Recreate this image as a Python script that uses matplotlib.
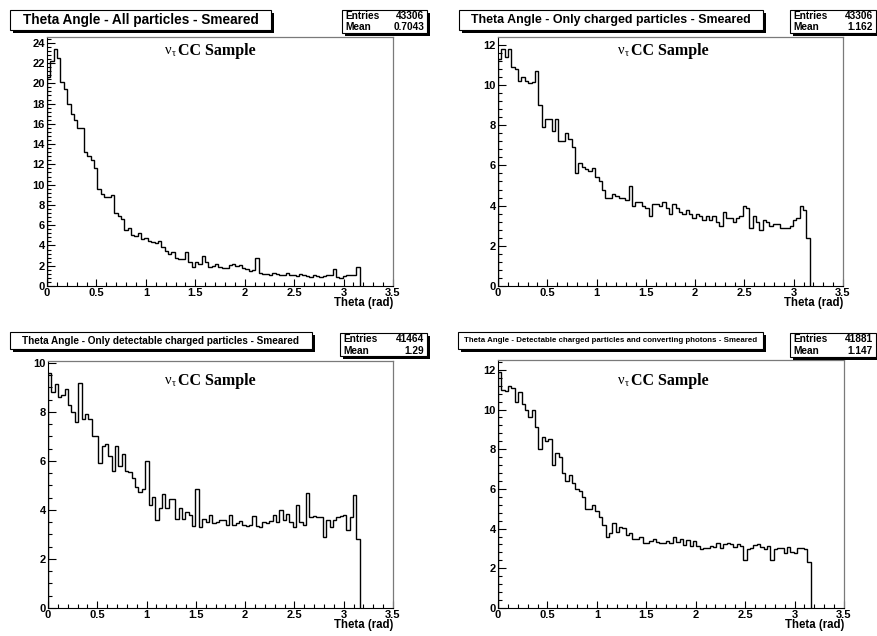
import numpy as np
import matplotlib
matplotlib.use("Agg")
import matplotlib.pyplot as plt
from matplotlib.patches import Rectangle
from matplotlib.ticker import MultipleLocator

W, H = 877, 636
BIN_WIDTH = 0.034  # rad per bin, 100 bins over [0, 3.4]

# Smeared theta distributions (bin contents, first 93 bins up to pi)
all_particles = [
    20.6, 22.2, 23.4, 22.5, 20.1, 19.4, 18.0, 17.0, 16.4, 15.6,
    15.6, 13.2, 12.8, 12.4, 11.6, 9.6, 9.1, 8.8, 8.8, 9.0,
    7.2, 6.9, 6.6, 5.5, 5.7, 5.0, 4.9, 5.2, 4.6, 4.7,
    4.4, 4.3, 4.2, 4.4, 3.8, 3.5, 3.2, 3.4, 2.8, 2.7,
    2.7, 3.4, 2.4, 1.9, 2.4, 2.2, 3.0, 2.4, 1.9, 2.0,
    2.2, 1.9, 1.8, 1.8, 2.1, 2.2, 2.0, 2.1, 1.8, 1.7,
    1.5, 1.6, 2.8, 1.3, 1.2, 1.2, 1.1, 1.3, 1.2, 1.1,
    1.1, 1.3, 1.1, 1.1, 1.0, 1.2, 1.1, 1.0, 0.9, 1.1,
    1.0, 0.9, 1.0, 1.1, 1.1, 1.7, 0.9, 0.8, 1.0, 1.1,
    1.1, 1.1, 1.9]

charged = [
    11.3, 11.8, 11.4, 11.8, 10.9, 10.8, 10.2, 10.4, 10.2, 10.1,
    10.15, 10.7, 9.0, 7.9, 8.3, 8.3, 7.7, 8.3, 7.2, 7.2,
    7.6, 7.3, 6.9, 5.6, 6.1, 5.9, 5.8, 5.7, 5.85, 5.4,
    5.2, 4.8, 4.4, 4.4, 4.6, 4.5, 4.4, 4.4, 4.3, 5.0,
    4.0, 4.2, 4.2, 4.0, 3.9, 3.5, 4.1, 4.1, 4.0, 4.2,
    3.9, 3.6, 4.1, 3.9, 3.7, 3.6, 3.8, 3.6, 3.4, 3.6,
    3.5, 3.3, 3.5, 3.3, 3.5, 3.2, 3.0, 3.7, 3.4, 3.4,
    3.2, 3.4, 3.5, 4.0, 3.9, 2.9, 3.5, 3.2, 2.8, 3.3,
    3.2, 3.0, 3.1, 3.1, 2.9, 2.9, 2.9, 3.0, 3.3, 3.4,
    4.0, 3.8, 2.4]

detectable_charged = [
    9.6, 8.8, 9.15, 8.6, 8.7, 8.95, 8.3, 8.0, 7.6, 9.2,
    7.7, 7.9, 7.7, 7.0, 7.0, 5.9, 6.6, 6.7, 6.2, 5.6,
    6.6, 5.8, 6.3, 5.6, 5.55, 5.3, 4.95, 4.75, 4.85, 6.0,
    4.2, 4.55, 3.6, 4.1, 4.65, 4.1, 4.45, 4.45, 3.65, 4.1,
    3.65, 3.9, 3.8, 3.35, 4.85, 3.3, 3.65, 3.5, 3.8, 3.45,
    3.5, 3.6, 3.6, 3.4, 3.8, 3.4, 3.45, 3.55, 3.4, 3.35,
    3.4, 3.75, 3.35, 3.3, 3.5, 3.45, 3.55, 3.8, 3.5, 4.0,
    3.6, 3.85, 3.5, 3.3, 4.2, 3.5, 3.4, 4.7, 3.7, 3.75,
    3.7, 3.7, 2.9, 3.6, 3.3, 3.6, 3.7, 3.75, 3.8, 3.2,
    3.7, 4.6, 2.8]

charged_and_photons = [
    11.9, 11.0, 10.95, 11.2, 11.1, 10.4, 10.9, 10.3, 10.0, 9.6,
    10.0, 9.1, 8.0, 8.6, 8.4, 8.5, 7.2, 7.8, 7.6, 6.8,
    6.4, 6.7, 6.3, 6.0, 5.9, 5.6, 5.0, 5.0, 5.2, 4.9,
    4.6, 4.2, 3.6, 3.8, 4.3, 3.85, 4.1, 4.05, 3.7, 3.8,
    3.5, 3.5, 3.6, 3.3, 3.3, 3.4, 3.5, 3.35, 3.3, 3.3,
    3.4, 3.3, 3.6, 3.35, 3.5, 3.15, 3.45, 3.1, 3.4, 3.1,
    2.95, 3.0, 3.0, 3.1, 3.05, 3.25, 3.0, 3.2, 3.25, 3.2,
    3.05, 3.2, 3.1, 2.4, 2.95, 3.0, 3.15, 3.2, 3.05, 2.95,
    3.1, 2.4, 2.95, 3.0, 3.0, 2.75, 3.05, 2.8, 2.75, 3.0,
    3.0, 2.95, 2.3]

titles = [
    "Theta Angle - All particles - Smeared",
    "Theta Angle - Only charged particles - Smeared",
    "Theta Angle - Only detectable charged particles - Smeared",
    "Theta Angle - Detectable charged particles and converting photons - Smeared",
]
entries = ["43306", "43306", "41464", "41881"]
means = ["0.7043", "1.162", "1.29", "1.147"]
x_ticks = [0, 0.5, 1, 1.5, 2, 2.5, 3, 3.5]
x_tick_labels = ["0", "0.5", "1", "1.5", "2", "2.5", "3", "3.5"]
x_title = "Theta (rad)"
sample_label = "CC Sample"

series = [all_particles, charged, detectable_charged, charged_and_photons]

# Layout in pixels: frame (left, top, right, bottom), title box, stats box
frames = [(47, 37, 393, 286), (498, 37, 843, 286),
          (48, 361, 393, 608), (498, 360, 844, 608)]
title_boxes = [(10, 10, 271, 29.5, 9.8), (459, 10, 763, 29.5, 8.9),
               (10, 332, 312, 348.5, 7.2), (458, 332, 763, 348.5, 5.7)]
stat_boxes = [(342, 9.5, 427, 32.5, 7.3), (790, 9.5, 876, 32.5, 7.3),
              (340, 333, 427, 356, 7.3), (790, 333, 876, 356.5, 7.3)]
y_minor = [0.4, 0.4, 0.5, 0.4]

SANS = "Liberation Sans"
SERIF = "Liberation Serif"

fig = plt.figure(figsize=(W / 100, H / 100), dpi=100)
fig.patch.set_facecolor("white")


def px_rect(l, t, r, b):
    return [l / W, 1 - b / H, (r - l) / W, (b - t) / H]


edges = np.arange(len(all_particles) + 1) * BIN_WIDTH

for k, vals in enumerate(series):
    vals = np.asarray(vals)
    ax = fig.add_axes(px_rect(*frames[k]))
    ax.stairs(vals, edges, baseline=0, color="black", lw=1.0)
    ax.set_xlim(0, 3.5)
    ax.set_ylim(0, vals.max() * 1.05)
    ax.xaxis.set_major_locator(MultipleLocator(0.5))
    ax.xaxis.set_minor_locator(MultipleLocator(0.1))
    ax.set_xticks(x_ticks)
    ax.set_xticklabels(x_tick_labels)
    ax.yaxis.set_major_locator(MultipleLocator(2))
    ax.yaxis.set_minor_locator(MultipleLocator(y_minor[k]))
    ax.tick_params(which="both", direction="in", top=False, right=False,
                   width=0.8, color="black")
    ax.tick_params(which="major", length=5.4, pad=1.5)
    ax.tick_params(which="minor", length=2.8)
    for lab in ax.get_xticklabels() + ax.get_yticklabels():
        lab.set_fontfamily(SANS)
        lab.set_fontweight("bold")
        lab.set_fontsize(8)
    for side in ("left", "bottom"):
        ax.spines[side].set_color("black")
        ax.spines[side].set_linewidth(0.8)
    for side in ("top", "right"):
        ax.spines[side].set_color("#7a7a7a")
        ax.spines[side].set_linewidth(0.9)

# Overlay in pixel coordinates for boxes and labels
ov = fig.add_axes([0, 0, 1, 1], zorder=5)
ov.set_xlim(0, W)
ov.set_ylim(H, 0)
ov.axis("off")


def shadow_box(x0, y0, x1, y1, sh=3):
    ov.add_patch(Rectangle((x0 + sh, y0 + sh), x1 - x0, y1 - y0,
                           fc="black", ec="none", clip_on=False))
    ov.add_patch(Rectangle((x0, y0), x1 - x0, y1 - y0,
                           fc="white", ec="black", lw=0.8, clip_on=False))


for k in range(4):
    x0, y0, x1, y1, fs = title_boxes[k]
    shadow_box(x0, y0, x1, y1)
    ov.text((x0 + x1) / 2, (y0 + y1) / 2 + 0.5, titles[k], ha="center",
            va="center", fontfamily=SANS, fontweight="bold", fontsize=fs)

    sx0, sy0, sx1, sy1, sfs = stat_boxes[k]
    shadow_box(sx0, sy0, sx1, sy1)
    hrow = (sy1 - sy0) / 2
    for j, (name, val) in enumerate((("Entries", entries[k]),
                                     ("Mean", means[k]))):
        yc = sy0 + hrow * (j + 0.5) + 0.3
        ov.text(sx0 + 3.5, yc, name, ha="left", va="center",
                fontfamily=SANS, fontweight="bold", fontsize=sfs)
        ov.text(sx1 - 3, yc, val, ha="right", va="center",
                fontfamily=SANS, fontweight="bold", fontsize=sfs)

    l, t, r, b = frames[k]
    ov.text(r, b + 17, x_title, ha="right", va="center",
            fontfamily=SANS, fontweight="bold", fontsize=8.3)

    # nu_tau CC Sample label
    cx = 165 if k % 2 == 0 else 618
    cy = 51 if k < 2 else 381
    ov.text(cx, cy, "ν", ha="left", va="center", fontfamily=SERIF,
            fontsize=10.5)
    ov.text(cx + 7, cy + 3, "τ", ha="left", va="center", fontfamily=SERIF,
            fontsize=7)
    ov.text(cx + 13, cy, sample_label, ha="left", va="center",
            fontfamily=SERIF, fontweight="bold", fontsize=11.5)

fig.savefig("out.png", dpi=100, facecolor="white")
